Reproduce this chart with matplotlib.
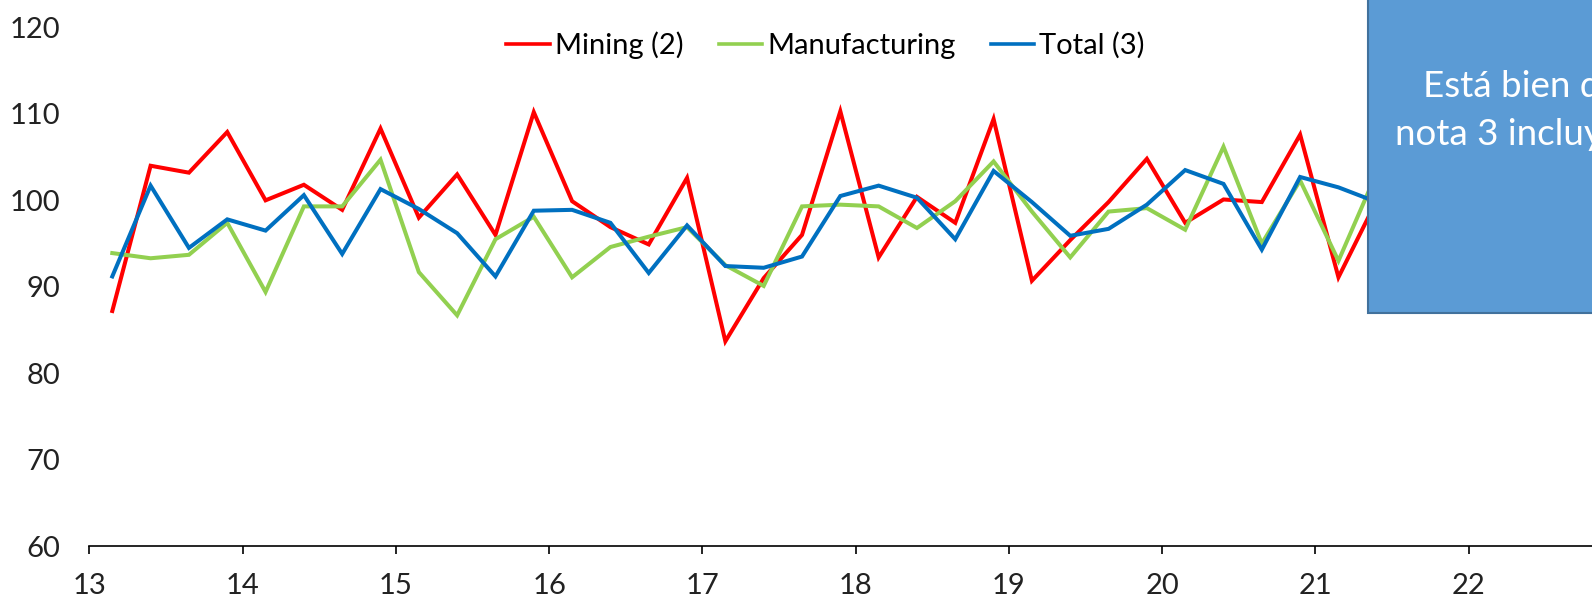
import numpy as np
import matplotlib.pyplot as plt
from matplotlib.patches import Rectangle

plt.rcParams['font.family'] = ['Lato', 'DejaVu Sans']

# quarterly index values, x axis is two-digit year
first_obs = 13.15
step = 0.25

mining = [87.2, 104.0, 103.2, 107.9, 100.0, 101.8, 98.9, 108.3, 98.0, 103.0,
          96.0, 110.2, 99.9, 96.9, 94.9, 102.6, 83.7, 91.0, 96.0, 110.3,
          93.4, 100.4, 97.4, 109.4, 90.7, 95.4, 99.8, 104.8, 97.4, 100.1,
          99.8, 107.6, 91.1, 100.0]
manufacturing = [93.9, 93.3, 93.7, 97.4, 89.4, 99.3, 99.3, 104.7, 91.7, 86.7,
                 95.5, 98.1, 91.1, 94.6, 95.8, 96.9, 92.5, 90.1, 99.3, 99.5,
                 99.3, 96.8, 99.9, 104.5, 98.7, 93.4, 98.7, 99.1, 96.6, 106.2,
                 95.0, 102.3, 93.0, 103.2]
total = [91.2, 101.7, 94.5, 97.8, 96.5, 100.6, 93.8, 101.3, 99.0, 96.2,
         91.2, 98.8, 98.9, 97.4, 91.6, 97.1, 92.4, 92.2, 93.5, 100.5,
         101.7, 100.3, 95.5, 103.4, 99.8, 95.9, 96.7, 99.5, 103.5, 101.9,
         94.3, 102.7, 101.5, 99.8]

series = [("Mining (2)", mining, "#ff0000"),
          ("Manufacturing", manufacturing, "#92d050"),
          ("Total (3)", total, "#0070c0")]

year_ticks = list(range(13, 23))
y_ticks = list(range(60, 121, 10))
box_lines = ["Está bien que la", "nota 3 incluya"]

W, H = 1592, 599
fig = plt.figure(figsize=(W / 100, H / 100), dpi=100)
ax = fig.add_axes([89.3 / W, 52.8 / H, 1532.7 / W, 518.8 / H])

x = first_obs + step * np.arange(len(mining))
for name, vals, col in series:
    ax.plot(x, vals, color=col, lw=2.9, label=name, solid_joinstyle="miter")

ax.set_xlim(13, 23)
ax.set_ylim(60, 120)
ax.set_xticks(year_ticks)
ax.set_yticks(y_ticks)
for s in ["top", "right", "left"]:
    ax.spines[s].set_visible(False)
ax.spines["bottom"].set_linewidth(1.2)
ax.spines["bottom"].set_color("black")
ax.tick_params(axis="y", length=0, pad=21, labelsize=21, labelcolor="#222222")
ax.tick_params(axis="x", length=6, width=1.2, pad=13, labelsize=21,
               labelcolor="#222222")

leg = fig.legend(loc="center", bbox_to_anchor=(825.5 / W, 1 - 45 / H), ncol=3,
                 frameon=False, fontsize=21, handlelength=1.5,
                 handletextpad=0.17, columnspacing=1.2, borderpad=0)
for h in leg.get_lines():
    h.set_linewidth(2.6)

# text box pasted over the right side of the chart
box = Rectangle((1367.7 / W, 1 - 313.3 / H), 0.3, 0.6, transform=fig.transFigure,
                facecolor="#5b9bd5", edgecolor="#41719c", lw=1.5, zorder=5)
fig.add_artist(box)
fig.text(1422.7 / W, 1 - 97.3 / H, box_lines[0], color="white", fontsize=26.5,
         ha="left", va="baseline", zorder=6)
fig.text(1395 / W, 1 - 145 / H, box_lines[1], color="white", fontsize=26.5,
         ha="left", va="baseline", zorder=6)

fig.savefig("out.png", dpi=100)
